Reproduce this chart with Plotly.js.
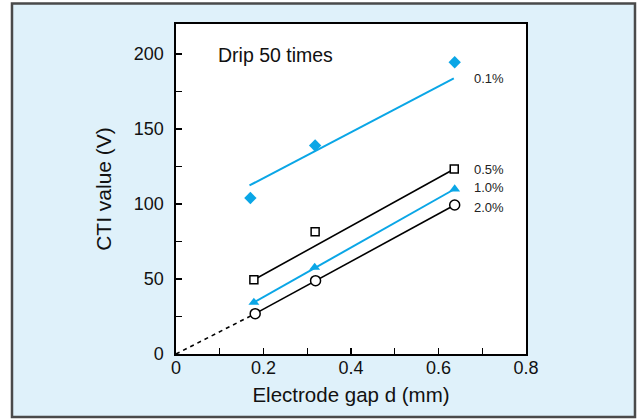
<!DOCTYPE html>
<html>
<head>
<meta charset="utf-8">
<script src="https://cdn.plot.ly/plotly-3.0.1.min.js"></script>
<style>html,body{margin:0;padding:0;background:#fff;}#chart{width:642px;height:419px;}</style>
</head>
<body>
<div id="chart"></div>
<script>
// Measured points (electrode gap d in mm, CTI value in V)
const seriesNames = ["0.1%", "0.5%", "1.0%", "2.0%"];
const gapX01 = [0.170, 0.318, 0.637];
const cti01  = [104, 139, 194.5];
const gapX05 = [0.178, 0.318, 0.636];
const cti05  = [49.5, 81.5, 123.3];
const gapX10 = [0.178, 0.317, 0.637];
const cti10  = [34.4, 57.7, 110];
const gapX20 = [0.181, 0.319, 0.637];
const cti20  = [26.9, 48.9, 99.3];
// Fitted trend lines (end points)
const fitX01 = [0.168, 0.635];
const fitY01 = [112.4, 183.7];
const fitX05 = [0.178, 0.636];
const fitY05 = [49.5, 123.3];
const fitX10 = [0.178, 0.637];
const fitY10 = [34.4, 110];
const fitX20 = [0.181, 0.637];
const fitY20 = [26.9, 99.3];
// Extrapolation to the origin
const extX20 = [0, 0.181];
const extY20 = [0, 26.9];
// Ticks
const xTicks = [0, 0.2, 0.4, 0.6, 0.8];
const xTickText = ["0", "0.2", "0.4", "0.6", "0.8"];
const yTicks = [0, 50, 100, 150, 200];
const yTickText = ["0", "50", "100", "150", "200"];
const noteText = "Drip 50 times";

const BLUE = "#0aa6e6";
const FONT = "Liberation Sans, Arial, Helvetica, sans-serif";

const traces = [
  {x: fitX01, y: fitY01, mode: "lines", line: {color: BLUE, width: 2}, hoverinfo: "skip"},
  {x: fitX05, y: fitY05, mode: "lines", line: {color: "#000", width: 1.6}, hoverinfo: "skip"},
  {x: fitX10, y: fitY10, mode: "lines", line: {color: BLUE, width: 2}, hoverinfo: "skip"},
  {x: fitX20, y: fitY20, mode: "lines", line: {color: "#000", width: 1.6}, hoverinfo: "skip"},
  {x: extX20, y: extY20, mode: "lines", line: {color: "#000", width: 1.6, dash: "4px,4px"}, hoverinfo: "skip"},
  {x: gapX01, y: cti01, name: seriesNames[0], mode: "markers",
   marker: {symbol: "diamond", size: 9.5, color: BLUE, line: {width: 0}}},
  {x: gapX05, y: cti05, name: seriesNames[1], mode: "markers",
   marker: {symbol: "square", size: 8, color: "#fff", line: {color: "#000", width: 1.5}}},
  {x: gapX10, y: cti10, name: seriesNames[2], mode: "markers",
   marker: {symbol: "triangle-up", size: 9.5, color: BLUE, line: {width: 0}}},
  {x: gapX20, y: cti20, name: seriesNames[3], mode: "markers",
   marker: {symbol: "circle", size: 10, color: "#fff", line: {color: "#000", width: 1.5}}}
];

const labelY = [183.5, 122.9, 110.7, 98];
const annotations = seriesNames.map((t, i) => ({
  x: 0.6765, y: labelY[i], xref: "x", yref: "y", text: t, showarrow: false,
  xanchor: "left", yanchor: "middle", font: {family: FONT, size: 13, color: "#222"}
}));
annotations.push({
  x: 0.115, y: 199.3, xref: "paper", yref: "y", text: noteText, showarrow: false,
  xanchor: "left", yanchor: "middle", font: {family: FONT, size: 19.5, color: "#111"}
});

const layout = {
  width: 642, height: 419,
  margin: {l: 176, r: 116, t: 24, b: 65, pad: 0},
  paper_bgcolor: "#ffffff",
  plot_bgcolor: "#ffffff",
  showlegend: false,
  font: {family: FONT, color: "#111"},
  shapes: [
    {type: "rect", xref: "paper", yref: "paper", x0: -0.4686, x1: 1.3114, y0: -0.1909, y1: 1.0621,
     fillcolor: "#dff1fa", line: {color: "#4a4a4a", width: 2.5}, layer: "below"},
    {type: "rect", xref: "paper", yref: "paper", x0: 0, x1: 1, y0: 0, y1: 1,
     fillcolor: "#ffffff", line: {width: 0}, layer: "below"}
  ],
  xaxis: {
    range: [0, 0.8], tickvals: xTicks, ticktext: xTickText,
    ticks: "inside", ticklen: 6, tickwidth: 1.2, tickcolor: "#000",
    minor: {dtick: 0.1, tick0: 0, ticks: "inside", ticklen: 6, tickwidth: 1.2, tickcolor: "#000"},
    showline: true, linecolor: "#000", linewidth: 1.6, mirror: true,
    showgrid: false, zeroline: false,
    tickfont: {family: FONT, size: 18, color: "#111"}, ticklabelstandoff: -3,
    title: {text: "Electrode gap d (mm)", font: {family: FONT, size: 20.5, color: "#111"}, standoff: 10}
  },
  yaxis: {
    range: [0, 220], tickvals: yTicks, ticktext: yTickText,
    ticks: "inside", ticklen: 6, tickwidth: 1.2, tickcolor: "#000",
    minor: {dtick: 25, tick0: 0, ticks: "inside", ticklen: 6, tickwidth: 1.2, tickcolor: "#000"},
    showline: true, linecolor: "#000", linewidth: 1.6, mirror: true,
    showgrid: false, zeroline: false,
    tickfont: {family: FONT, size: 18, color: "#111"}, ticklabelstandoff: 7,
    title: {text: "CTI value (V)", font: {family: FONT, size: 21, color: "#111"}, standoff: 16}
  },
  annotations: annotations
};

Plotly.newPlot("chart", traces, layout, {displayModeBar: false, staticPlot: true});
</script>
</body>
</html>
